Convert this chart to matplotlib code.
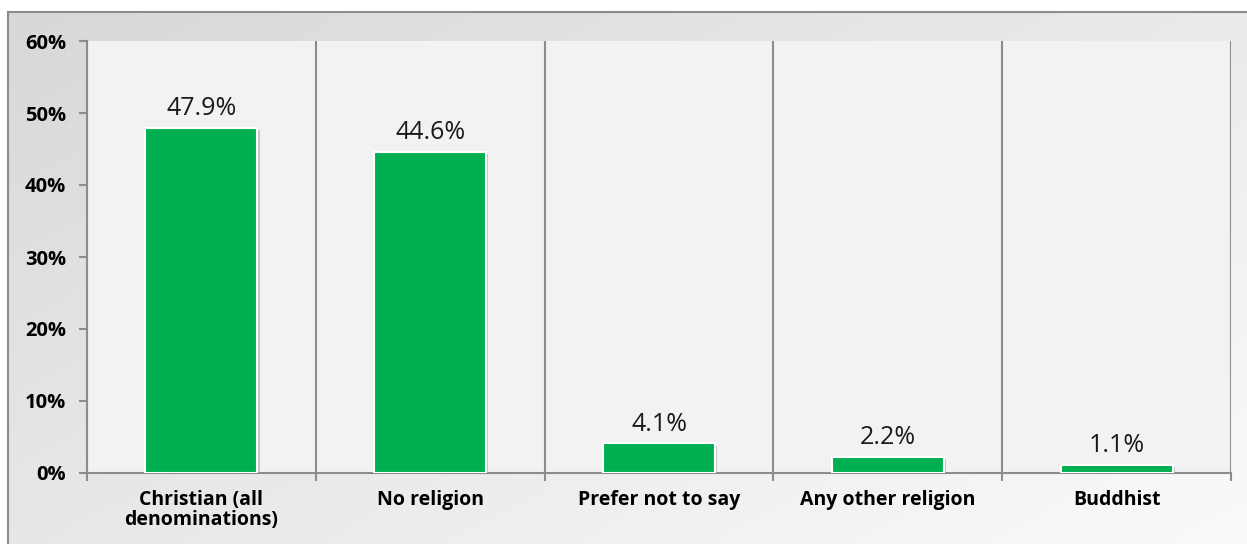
import numpy as np
import matplotlib
matplotlib.use("Agg")
import matplotlib.pyplot as plt
from matplotlib import patheffects

plt.rcParams['font.family'] = ['Open Sans', 'DejaVu Sans']

categories = ["Christian (all\ndenominations)", "No religion", "Prefer not to say",
              "Any other religion", "Buddhist"]
values = [47.9, 44.6, 4.1, 2.2, 1.1]
y_ticks = [0, 10, 20, 30, 40, 50, 60]

W, H = 1247, 544
fig = plt.figure(figsize=(W / 100, H / 100), dpi=100)
fig.patch.set_facecolor("white")

# chart-area background with diagonal gradient and frame
bg = fig.add_axes([8 / W, 0, 1 - 8 / W, 1 - 12 / H])
gx, gy = np.meshgrid(np.linspace(0, 1, 300), np.linspace(0, 1, 120))
grad = 0.55 * gx + 0.45 * gy
bg.imshow(grad, cmap=matplotlib.colors.LinearSegmentedColormap.from_list(
    "g", ["#d8d8d8", "#fafafa"]), aspect="auto", extent=[0, 1, 0, 1],
    origin="upper", vmin=0, vmax=1)
bg.set_xticks([])
bg.set_yticks([])
for s in ["right", "bottom"]:
    bg.spines[s].set_visible(False)
for s in ["top", "left"]:
    bg.spines[s].set_color("#8c8c8c")
    bg.spines[s].set_linewidth(1.5)

ax = fig.add_axes([87 / W, 1 - 473 / H, (1231 - 87) / W, (473 - 41) / H])
ax.set_facecolor("#f2f2f2")

x = np.arange(len(categories))
bars = ax.bar(x, values, width=0.49, color="#00b050", edgecolor="white",
              linewidth=1.5, zorder=3)
for b in bars:
    b.set_path_effects([patheffects.SimplePatchShadow(offset=(1.5, -1.5),
                                                      shadow_rgbFace="#9a9a9a", alpha=0.5),
                        patheffects.Normal()])

for xi, v in zip(x, values):
    ax.annotate(f"{v:.1f}%", (xi, v), xytext=(0, 5), textcoords="offset points",
                ha="center", va="bottom", fontsize=18, color="#1a1a1a")

ax.set_xlim(-0.5, len(categories) - 0.5)
ax.set_ylim(0, 60)
ax.set_yticks(y_ticks)
ax.set_yticklabels([f"{t}%" for t in y_ticks], fontsize=14.5, fontweight="bold")
ax.set_xticks(x)
ax.set_xticklabels(categories, fontsize=14, fontweight="bold", linespacing=1.05)
ax.set_xticks(np.arange(-0.5, len(categories)), minor=True)
ax.tick_params(axis="x", which="major", length=0, pad=12)
ax.tick_params(axis="x", which="minor", length=6, width=1.5, color="#8c8c8c")
ax.tick_params(axis="y", length=6, width=1.5, color="#8c8c8c", pad=9)
ax.grid(axis="x", which="minor", color="#8c8c8c", linewidth=1.5, zorder=1)
ax.set_axisbelow(True)

for s in ["top", "right"]:
    ax.spines[s].set_visible(False)
for s in ["left", "bottom"]:
    ax.spines[s].set_color("#8c8c8c")
    ax.spines[s].set_linewidth(1.5)

fig.savefig("out.png", dpi=100)
